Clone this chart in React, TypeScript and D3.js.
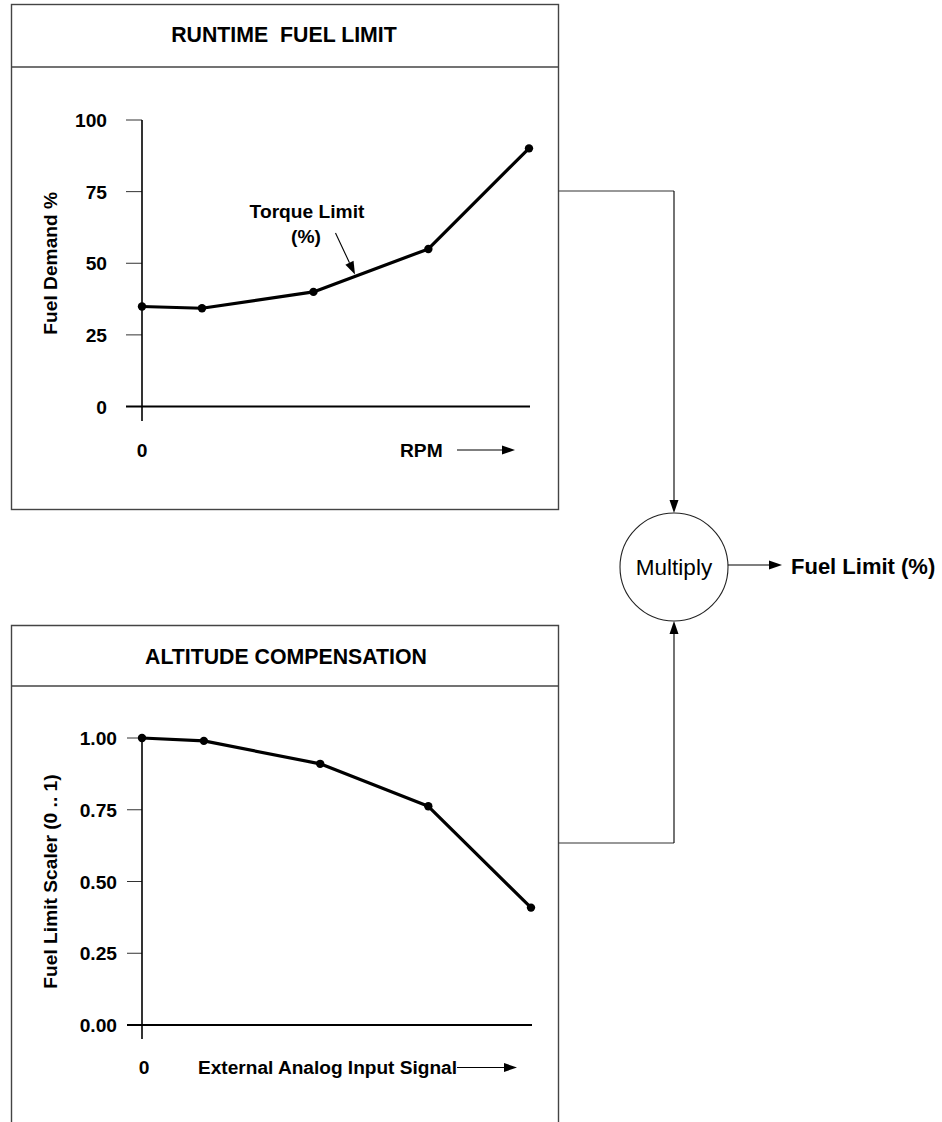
import React from "react";
import * as d3 from "d3";

// ---- Data ----
const rpmPositions = [0, 15.5, 44.3, 74, 100];
const fuelDemand = [34.9, 34.3, 40, 55, 90.1];
const fuelTicks = [0, 25, 50, 75, 100];

const signalPositions = [0, 15.9, 45.8, 73.6, 100];
const scalerValues = [1.0, 0.99, 0.91, 0.762, 0.409];
const scalerTicks = [0, 0.25, 0.5, 0.75, 1.0];

const FONT = "'Liberation Sans', Arial, Helvetica, sans-serif";

function Arrow({ x1, y1, x2, y2, head = 12, half = 4.5, stroke = "#000", sw = 1 }: any) {
  const ang = Math.atan2(y2 - y1, x2 - x1);
  const bx = x2 - head * Math.cos(ang);
  const by = y2 - head * Math.sin(ang);
  const px = -Math.sin(ang) * half;
  const py = Math.cos(ang) * half;
  return (
    <g>
      <line x1={x1} y1={y1} x2={bx} y2={by} stroke={stroke} strokeWidth={sw} />
      <path d={`M${x2},${y2}L${bx + px},${by + py}L${bx - px},${by - py}Z`} fill={stroke} />
    </g>
  );
}

export default function App() {
  const xTop = d3.scaleLinear().domain([0, 100]).range([142, 529]);
  const yTop = d3.scaleLinear().domain([0, 100]).range([406.5, 120]);
  const xBot = d3.scaleLinear().domain([0, 100]).range([142, 531]);
  const yBot = d3.scaleLinear().domain([0, 1]).range([1025, 738]);

  const topLine = d3
    .line<number>()
    .x((_, i) => xTop(rpmPositions[i]))
    .y((d) => yTop(d))(fuelDemand) as string;
  const botLine = d3
    .line<number>()
    .x((_, i) => xBot(signalPositions[i]))
    .y((d) => yBot(d))(scalerValues) as string;

  const boxStroke = "#444";
  const cx = 674,
    cy = 567,
    r = 54;
  const fs = 19.2;

  return (
    <svg
      width={942}
      height={1122}
      style={{ position: "absolute", left: 0, top: 0, background: "#fff" }}
      fontFamily={FONT}
    >
      {/* ===== Top box ===== */}
      <rect x={11.5} y={4.5} width={547} height={505} fill="none" stroke={boxStroke} strokeWidth={1.4} />
      <line x1={11.5} x2={558.5} y1={67} y2={67} stroke={boxStroke} strokeWidth={1.4} />
      <text x={284} y={41.5} textAnchor="middle" fontWeight="bold" fontSize={21.3}>
        {"RUNTIME\u00A0 FUEL LIMIT"}
      </text>

      {fuelTicks.map((t) => (
        <g key={"ft" + t}>
          <line x1={126} x2={142} y1={yTop(t)} y2={yTop(t)} stroke="#333" strokeWidth={1} />
          <text x={107} y={yTop(t) + 7} textAnchor="end" fontWeight="bold" fontSize={fs}>
            {t}
          </text>
        </g>
      ))}
      <line x1={142} x2={142} y1={yTop(100)} y2={421} stroke="#000" strokeWidth={1.6} />
      <line x1={126} x2={530} y1={yTop(0)} y2={yTop(0)} stroke="#000" strokeWidth={2} />
      <text
        transform={`translate(57,${yTop(50)}) rotate(-90)`}
        textAnchor="middle"
        fontWeight="bold"
        fontSize={fs}
      >
        Fuel Demand %
      </text>
      <text x={142} y={456.5} textAnchor="middle" fontWeight="bold" fontSize={fs}>
        0
      </text>
      <text x={400} y={456.5} fontWeight="bold" fontSize={fs}>
        RPM
      </text>
      <Arrow x1={457} y1={450} x2={515} y2={450} head={13} half={4.5} sw={1.2} />

      <path d={topLine} fill="none" stroke="#000" strokeWidth={3.2} strokeLinejoin="round" />
      {fuelDemand.map((v, i) => (
        <circle key={"tp" + i} cx={xTop(rpmPositions[i])} cy={yTop(v)} r={4.2} fill="#000" />
      ))}

      <text x={307} y={217.5} textAnchor="middle" fontWeight="bold" fontSize={fs}>
        Torque Limit
      </text>
      <text x={306} y={242.5} textAnchor="middle" fontWeight="bold" fontSize={fs}>
        (%)
      </text>
      <Arrow x1={335.5} y1={233} x2={355} y2={274.5} head={13} half={4.5} sw={1.1} />

      {/* ===== Bottom box ===== */}
      <path
        d="M11.5,1130 L11.5,625.5 L558.5,625.5 L558.5,1130"
        fill="none"
        stroke={boxStroke}
        strokeWidth={1.4}
      />
      <line x1={11.5} x2={558.5} y1={686} y2={686} stroke={boxStroke} strokeWidth={1.4} />
      <text x={286} y={663.5} textAnchor="middle" fontWeight="bold" fontSize={21.3}>
        ALTITUDE COMPENSATION
      </text>

      {scalerTicks.map((t) => (
        <g key={"st" + t}>
          <line x1={127} x2={142} y1={yBot(t)} y2={yBot(t)} stroke="#333" strokeWidth={1} />
          <text x={117} y={yBot(t) + 7} textAnchor="end" fontWeight="bold" fontSize={fs}>
            {t.toFixed(2)}
          </text>
        </g>
      ))}
      <line x1={142} x2={142} y1={yBot(1)} y2={1039} stroke="#000" strokeWidth={1.6} />
      <line x1={127} x2={532} y1={yBot(0)} y2={yBot(0)} stroke="#000" strokeWidth={2} />
      <text
        transform={`translate(57,${yBot(0.5)}) rotate(-90)`}
        textAnchor="middle"
        fontWeight="bold"
        fontSize={fs}
      >
        Fuel Limit Scaler (0 .. 1)
      </text>
      <text x={144} y={1074} textAnchor="middle" fontWeight="bold" fontSize={fs}>
        0
      </text>
      <text x={198} y={1074} fontWeight="bold" fontSize={fs} textLength={259} lengthAdjust="spacingAndGlyphs">
        External Analog Input Signal
      </text>
      <Arrow x1={457} y1={1067.5} x2={517} y2={1067.5} head={13} half={4.5} sw={1.2} />

      <path d={botLine} fill="none" stroke="#000" strokeWidth={3.2} strokeLinejoin="round" />
      {scalerValues.map((v, i) => (
        <circle key={"bp" + i} cx={xBot(signalPositions[i])} cy={yBot(v)} r={4.2} fill="#000" />
      ))}

      {/* ===== Connectors & multiply ===== */}
      <path d={`M558.5,191 L${cx},191`} fill="none" stroke="#333" strokeWidth={1.1} />
      <Arrow x1={cx} y1={191} x2={cx} y2={cy - r} head={13} half={4.5} stroke="#000" sw={1.1} />
      <path d={`M558.5,843 L${cx},843`} fill="none" stroke="#333" strokeWidth={1.1} />
      <Arrow x1={cx} y1={843} x2={cx} y2={cy + r} head={13} half={4.5} stroke="#000" sw={1.1} />

      <circle cx={cx} cy={cy} r={r} fill="#fff" stroke="#222" strokeWidth={1.1} />
      <text x={cx} y={cy + 8} textAnchor="middle" fontSize={22.5}>
        Multiply
      </text>
      <Arrow x1={cx + r} y1={565} x2={782} y2={565} head={13} half={4.5} sw={1.1} />
      <text x={791} y={573.5} fontWeight="bold" fontSize={22}>
        Fuel Limit (%)
      </text>
    </svg>
  );
}
